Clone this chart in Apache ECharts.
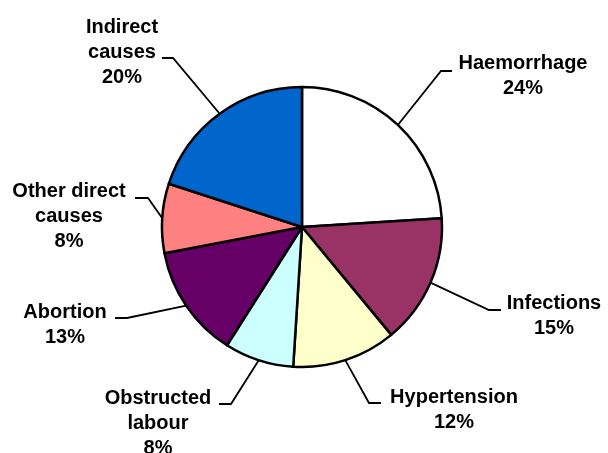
<!DOCTYPE html>
<html>
<head>
<meta charset="utf-8">
<script src="https://cdn.jsdelivr.net/npm/echarts@6/dist/echarts.min.js"></script>
<style>
    html, body { margin: 0; padding: 0; background: #fff; }
    #chart { width: 608px; height: 453px; }
</style>
</head>
<body>
<div id="chart"></div>
<script>
    // slices clockwise from 12 o'clock
    var causes = ['Haemorrhage', 'Infections', 'Hypertension', 'Obstructed\nlabour', 'Abortion', 'Other direct\ncauses', 'Indirect\ncauses'];
    var shares = [24, 15, 12, 8, 13, 8, 20];
    var colors = ['#ffffff', '#993366', '#ffffcc', '#ccffff', '#660066', '#ff8080', '#0066cc'];

    // where each label sits and where its leader line bends (px)
    var labelSpots = [
        { x: 523, y: 76, elbow: [441, 71], end: [452, 71] },
        { x: 554, y: 316, elbow: [489, 310], end: [501, 310] },
        { x: 454, y: 410, elbow: [369, 403], end: [381, 403] },
        { x: 158, y: 423, elbow: [231, 404], end: [219, 404] },
        { x: 65, y: 325, elbow: [127, 318], end: [115, 318] },
        { x: 69, y: 216, elbow: [148, 198], end: [135, 198] },
        { x: 122, y: 52, elbow: [173, 58], end: [162, 58] }
    ];

    var chart = echarts.init(document.getElementById('chart'));

    chart.setOption({
        animation: false,
        series: [{
            type: 'pie',
            center: [302, 227],
            radius: 140,
            startAngle: 90,
            clockwise: true,
            avoidLabelOverlap: false,
            itemStyle: {
                borderColor: '#000',
                borderWidth: 2.5
            },
            label: {
                show: true,
                position: 'outside',
                color: '#000',
                fontFamily: 'Liberation Sans, Arial, sans-serif',
                fontWeight: 'bold',
                fontSize: 20,
                lineHeight: 25,
                align: 'center',
                formatter: function (p) {
                    return p.name + '\n' + p.value + '%';
                }
            },
            labelLine: {
                show: true,
                length: 20,
                length2: 10,
                lineStyle: { color: '#000', width: 1.8 }
            },
            labelLayout: function (params) {
                var s = labelSpots[params.dataIndex];
                var start = params.labelLinePoints ? params.labelLinePoints[0] : s.elbow;
                return {
                    x: s.x,
                    y: s.y,
                    align: 'center',
                    verticalAlign: 'middle',
                    labelLinePoints: [start, s.elbow, s.end]
                };
            },
            emphasis: { disabled: true },
            data: causes.map(function (name, i) {
                return {
                    name: name,
                    value: shares[i],
                    itemStyle: { color: colors[i] }
                };
            })
        }]
    });
</script>
</body>
</html>
